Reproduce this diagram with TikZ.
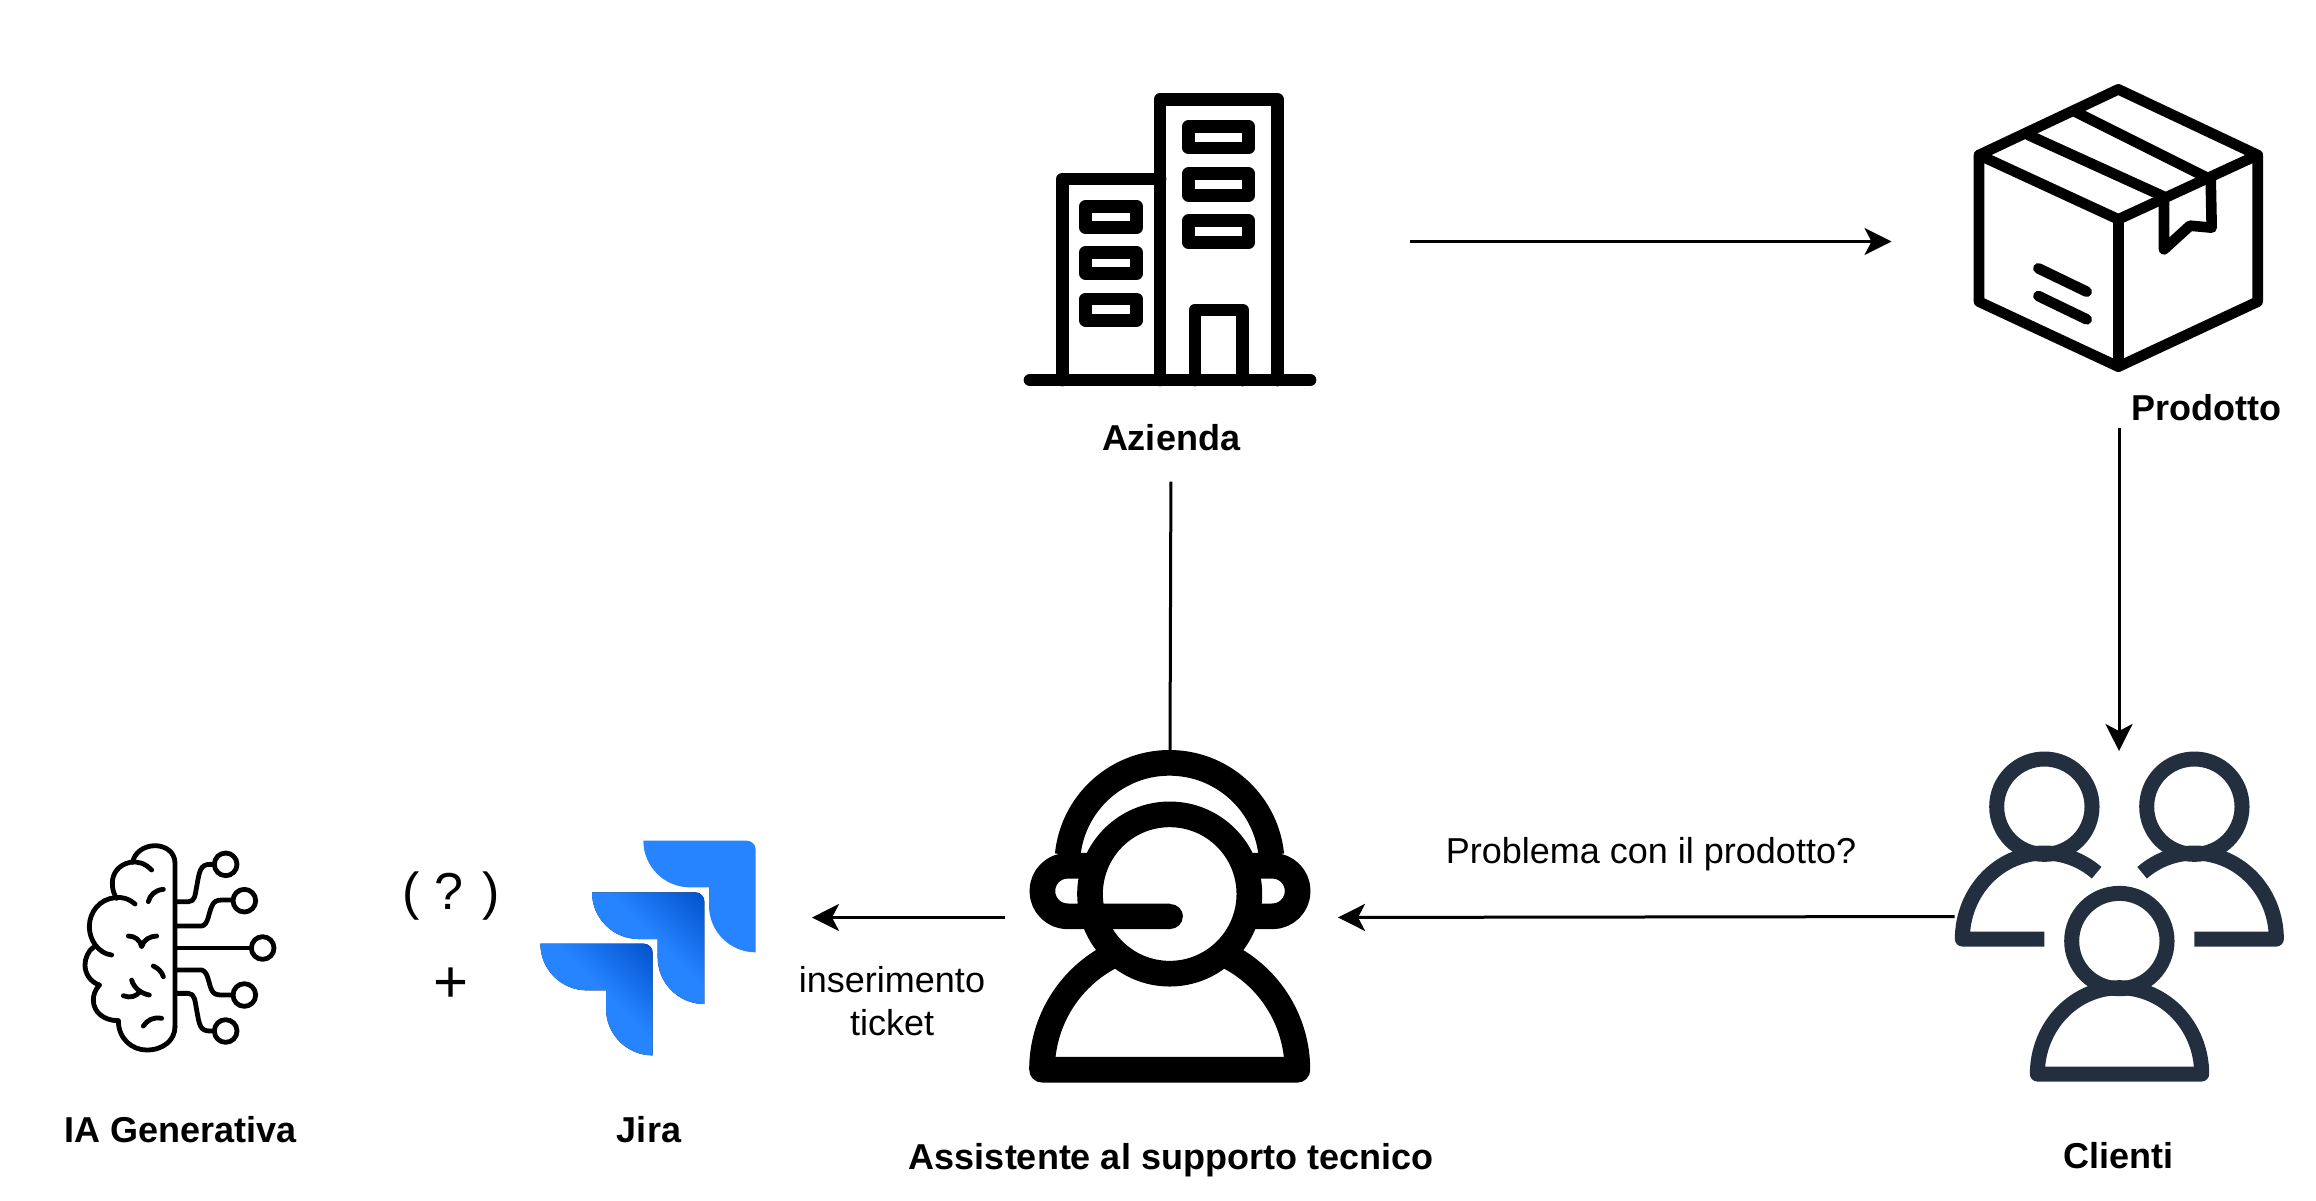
\documentclass[tikz,border=0pt]{standalone}
\usepackage{fontspec}
\setmainfont{Liberation Sans}
\usetikzlibrary{arrows.meta,positioning}
\definecolor{clientigray}{HTML}{232F3E}
\definecolor{jirablue}{HTML}{2684FF}
\definecolor{jiradark}{HTML}{0052CC}
\pgfdeclareverticalshading{jirashade}{100bp}{color(0bp)=(jirablue); color(55bp)=(jirablue); color(85bp)=(jiradark); color(100bp)=(jiradark)}
\tikzstyle{icona}=[inner sep=0pt,outer sep=0pt]
\tikzstyle{testo}=[inner sep=0pt,align=center,font=\fontsize{18}{21.5}\selectfont]
\tikzstyle{titolo}=[testo,font=\fontsize{18}{21.5}\selectfont\bfseries]
\tikzstyle{segno}=[inner sep=0pt,font=\fontsize{26}{30}\selectfont]
\tikzstyle{freccia}=[draw,line width=1.5pt,-{Stealth[length=13.5pt,width=13.5pt,inset=3.5pt]}]
\tikzstyle{tratto}=[line join=round,line cap=round]
\tikzstyle{zoomed}=[x=0.16667pt,y=-0.16667pt]
\tikzstyle{foglio}=[zoomed,fill=jirablue,draw=none]
\tikzstyle{fogliosfumato}=[zoomed,shading=jirashade,shading angle=-45]
\newcommand{\foglio}{(790,32) -- (1100,32) arc[start angle=-90,end angle=0,radius=27] -- (1127,367)
  arc[start angle=90,end angle=180,radius=140] -- (987,172) -- (930,172) arc[start angle=90,end angle=180,radius=140] -- cycle}
\begin{document}
\begin{tikzpicture}[x=0.5pt,y=-0.5pt]
\useasboundingbox (0,0) rectangle (2316,1200);

% % % % % % % % % % % % % % %

\node[icona,minimum width=147pt,minimum height=147.5pt](palazzo) at (1170,241.5) {};
\node[icona,minimum width=145.5pt,minimum height=145pt](scatola) at (2119,228) {};
\node[icona,minimum width=141pt,minimum height=166.5pt](operatore) at (1170,917.5) {};
\node[icona,minimum width=164.5pt,minimum height=165.5pt](clienti) at (2119,916.5) {};
\node[icona,minimum width=108pt,minimum height=108pt](jira) at (648,948) {};
\node[icona,minimum width=96.5pt,minimum height=105pt](cervello) at (180,947) {};

\node[titolo](azienda) at (1171,438) {Azienda};
\node[titolo](prodotto) at (2206,408) {Prodotto};
\node[titolo](assistente) at (1171,1160) {Assistente al supporto tecnico};
\node[titolo](clientilabel) at (2118,1156) {Clienti};
\node[titolo](jiralabel) at (649,1130) {Jira};
\node[titolo](ialabel) at (181,1130) {IA Generativa};
\node[testo](problema) at (1651,854) {Problema con il prodotto?};
\node[testo](inserimento) at (892,1001) {inserimento\\ticket};
\node[segno](dubbio) at (451,896) {( ? )};
\node[segno,font=\fontsize{30}{32}\selectfont](piu) at (451,985) {+};

% palazzo
\begin{scope}[shift={(1000,60)},zoomed,tratto,line width=6.33pt]
\draw (90,960) -- (930,960);
\draw (187,960) -- (187,357) -- (480,357);
\draw (480,960) -- (480,118) -- (832,118) -- (832,960);
\draw (585,960) -- (585,750) -- (728,750) -- (728,960);
\foreach \y/\yy in {199/264,341/406,482/548} {
\draw (566,\y) rectangle (746,\yy);
}
\foreach \y/\yy in {439/503,577/641,717/781} {
\draw (257,\y) rectangle (410,\yy);
}
\end{scope}

% scatola
\begin{scope}[shift={(1960,60)},zoomed,tratto,line width=5.3pt]
\draw (475,88) -- (893,285) -- (893,725) -- (475,920) -- (57,725) -- (57,285) -- cycle;
\draw (57,285) -- (475,478) -- (893,285);
\draw (475,478) -- (475,920);
\draw (345,155) -- (745,355);
\draw (205,225) -- (612,410) -- (612,568) -- (690,497) -- (755,503) -- (752,355);
\draw (235,625) -- (380,695);
\draw (235,708) -- (380,778);
\end{scope}

% operatore
\begin{scope}[shift={(1000,730)},zoomed,line width=12.83pt,line join=round]
\draw (509,492) circle[radius=239];
\draw (203,375) arc[start angle=185.7,end angle=354.3,radius=307];
\draw (262,407) -- (203,407) arc[start angle=-90,end angle=-270,radius=76] -- (510,559);
\draw[line cap=round] (400,559) -- (510,559);
\draw (756,407) -- (817,407) arc[start angle=-90,end angle=90,radius=76] -- (756,559);
\draw (683,678) arc[start angle=-63,end angle=0,radius=383] -- (126,1019) arc[start angle=180,end angle=243,radius=383];
\end{scope}

% clienti
\begin{scope}[shift={(1940,730)},zoomed,draw=clientigray,line width=7.5pt,line join=round]
\draw (313,230) circle[radius=143];
\draw (763,230) circle[radius=143];
\draw (538,633) circle[radius=143];
\draw (313,627) -- (67,627) arc[start angle=180,end angle=309.6,x radius=246,y radius=258];
\draw (763,627) -- (1009,627) arc[start angle=0,end angle=-129.6,x radius=246,y radius=258];
\draw (292,1032) arc[start angle=180,end angle=360,x radius=246.5,y radius=259] -- cycle;
\end{scope}

% jira
\begin{scope}[shift={(380,830)}]
\fill[foglio] \foglio;
\begin{scope}[shift={(-51.33,51.67)}]
\fill[fogliosfumato] \foglio;
\end{scope}
\begin{scope}[shift={(-103,103)}]
\fill[fogliosfumato] \foglio;
\end{scope}
\end{scope}

% cervello
\begin{scope}[shift={(60,830)},zoomed,tratto,line width=2.4pt]
\draw (345,590) -- (345,100) .. controls (345,65) and (315,47) .. (285,47) .. controls (250,47) and (222,70) .. (218,97);
\draw (275,120) .. controls (255,100) and (235,93) .. (210,97) .. controls (175,105) and (157,130) .. (157,160) .. controls (157,180) and (163,195) .. (170,205);
\draw (225,222) .. controls (205,205) and (185,200) .. (165,203) .. controls (120,207) and (88,245) .. (88,290) .. controls (88,330) and (115,370) .. (155,375);
\draw (100,352) .. controls (85,362) and (75,385) .. (75,405) .. controls (75,430) and (90,455) .. (118,465);
\draw (118,465) .. controls (105,480) and (100,495) .. (100,510) .. controls (100,545) and (130,572) .. (175,572);
\draw (175,572) .. controls (175,625) and (215,660) .. (260,660) .. controls (310,660) and (345,630) .. (345,590);
\draw (205,318) .. controls (225,318) and (240,330) .. (245,350) .. controls (250,330) and (270,318) .. (290,318);
\draw (280,408) .. controls (295,415) and (305,425) .. (310,440);
\draw (215,450) .. controls (220,470) and (240,490) .. (268,495);
\draw (190,497) .. controls (210,505) and (228,500) .. (240,485);
\draw (250,588) .. controls (262,570) and (280,560) .. (305,565);
\draw (265,215) .. controls (270,195) and (285,180) .. (310,178);
\draw (352,215) -- (385,215) .. controls (405,215) and (405,195) .. (410,170) .. controls (418,125) and (420,103) .. (450,103) -- (462,103);
\draw (352,288) -- (425,288) .. controls (445,285) and (445,250) .. (455,230) .. controls (460,215) and (470,210) .. (485,210) -- (518,210);
\draw (352,354) -- (570,354);
\draw (352,420) -- (425,420) .. controls (445,425) and (445,460) .. (455,480) .. controls (460,492) and (470,495) .. (485,495) -- (518,495);
\draw (352,490) -- (385,490) .. controls (405,490) and (405,515) .. (410,540) .. controls (418,585) and (420,603) .. (450,603) -- (462,603);
\foreach \x/\y in {497/103,553/212,608/354,553/495,497/603} {
\draw (\x,\y) circle[radius=34];
}
\end{scope}

% connettori
\draw[freccia,shorten <=46.5pt,shorten >=41pt] (palazzo.east) -- (palazzo.east -| scatola.west);
\draw[line width=1.5pt,shorten <=15pt] (azienda.south) -- (operatore.north);
\draw[freccia,shorten <=27.5pt] (scatola.south) -- (clienti.north);
\draw[freccia,shorten >=13.5pt] (clienti.west) -- (operatore.east);
\draw[freccia,shorten <=12pt,shorten >=28pt] (operatore.west) -- (operatore.west -| jira.east);

\end{tikzpicture}
\end{document}
